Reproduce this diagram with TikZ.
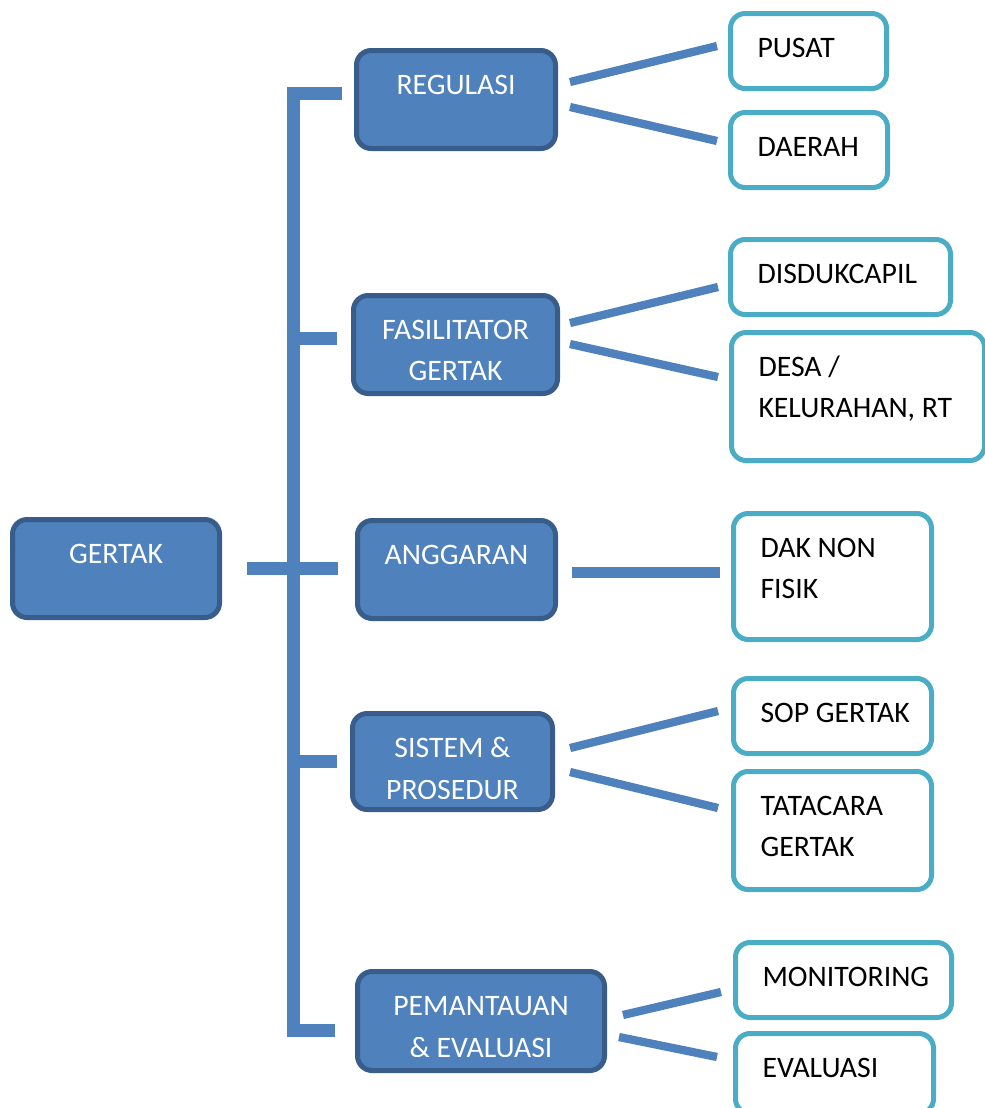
\documentclass[tikz,border=0pt]{standalone}
\usepackage{fontspec}
\setmainfont{Carlito}
\usepackage{trimclip}
\usetikzlibrary{calc}

\definecolor{fillblue}{HTML}{4F81BD}
\definecolor{darkedge}{HTML}{385D8A}
\definecolor{lightedge}{HTML}{4BACC6}

\newdimen\px \px=0.75pt
\newcommand\boxfont{\fontsize{22.3}{30.75}\selectfont}
\newcommand\darktxt[3]{\parbox[c][#2\px][t]{#1\px}{\centering\vspace*{14.8\px}\strut#3\par}}
\newcommand\lighttxt[3]{\parbox[c][#2\px][t]{#1\px}{\raggedright\leftskip=27\px\vspace*{14.8\px}\strut#3\par}}
\newcommand\cut[1]{\clipbox{0pt 1.2pt 0pt 0pt}{#1}}

\tikzset{
  dark/.style={draw=darkedge, fill=fillblue, line width=3.75pt, rounded corners=11pt,
    inner sep=0pt, outer sep=0pt, anchor=north west, text=white, font=\boxfont},
  light/.style={draw=lightedge, fill=white, line width=3.75pt, rounded corners=11pt,
    inner sep=0pt, outer sep=0pt, anchor=north west, font=\boxfont},
  bar/.style={draw=fillblue, line width=9.75pt},
  link/.style={draw=fillblue, line width=6.2pt}
}

\begin{document}
\begin{tikzpicture}[x=0.75pt,y=-0.75pt]
    \useasboundingbox (0,0) rectangle (985,1108);

    % main boxes
    \node[dark] (gertak)      at (12.5,519.5)  {\darktxt{207}{98}{GERTAK}};
    \node[dark] (regulasi)    at (356.5,50.5)  {\darktxt{199}{98}{REGULASI}};
    \node[dark] (fasilitator) at (353.5,295.5) {\darktxt{204}{98}{FASILITATOR\\GERTAK}};
    \node[dark] (anggaran)    at (357.5,520.5) {\darktxt{198}{98}{ANGGARAN}};
    \node[dark] (sistem)      at (352.5,713.5) {\darktxt{200}{96}{SISTEM \&\\\cut{PROSEDUR}}};
    \node[dark] (pemantauan)  at (357.5,971.5) {\darktxt{247}{99}{PEMANTAUAN\\\cut{\& EVALUASI}}};

    % detail boxes
    \node[light] (pusat)      at (730.5,13.5)  {\lighttxt{156}{75}{PUSAT}};
    \node[light] (daerah)     at (730.5,112.5) {\lighttxt{157}{75}{DAERAH}};
    \node[light] (disduk)     at (730.5,239.5) {\lighttxt{220}{75}{DISDUKCAPIL}};
    \node[light] (desa)       at (731.5,332.5) {\lighttxt{253}{128}{DESA /\\KELURAHAN, RT}};
    \node[light] (dak)        at (733.5,513.5) {\lighttxt{198}{126}{DAK NON\\FISIK}};
    \node[light] (sop)        at (733.5,678.5) {\lighttxt{198}{75}{SOP GERTAK}};
    \node[light] (tatacara)   at (733.5,771.5) {\lighttxt{198}{118}{TATACARA\\GERTAK}};
    \node[light] (monitoring) at (735.5,942.5) {\lighttxt{216}{75}{MONITORING}};
    \node[light] (evaluasi)   at (735.5,1033.5) {\lighttxt{198}{80}{EVALUASI}};

    % bracket
    \coordinate (spine) at (293.5,568.5);
    \coordinate (tt) at ([shift={(-14.5,-6.5)}]regulasi.west);
    \coordinate (bt) at ([shift={(-22.5,9)}]pemantauan.west);
    \draw[bar] (tt) -| (spine |- bt) -- (bt);
    \draw[bar] ([xshift=20.5]gertak.east) -- ([xshift=-19.5]gertak.east -| anggaran.west);
    \foreach \n/\dx/\dy in {fasilitator/-16.5/-6.5, anggaran/-19.5/-1.5, sistem/-15.5/-0.5}
      \draw[bar] ([shift={(\dx,\dy)}]\n.west) coordinate (tip) -- (tip -| spine);

    % links to the details
    \draw[link] ([shift={(14.5,-17.5)}]regulasi.east) -- ([shift={(-13.5,-5)}]pusat.west);
    \draw[link] ([shift={(14.5,7.5)}]regulasi.east) -- ([shift={(-13.5,-9)}]daerah.west);
    \draw[link] ([shift={(12.5,-21.5)}]fasilitator.east) -- ([shift={(-12.5,10)}]disduk.west);
    \draw[link] ([shift={(12.5,-0.5)}]fasilitator.east) -- ([shift={(-13.5,-19.5)}]desa.west);
    \draw[link, line width=8.2pt] ([shift={(16.5,3)}]anggaran.east) -- ([shift={(-13.5,-4)}]dak.west);
    \draw[link] ([shift={(17.5,-13.5)}]sistem.east) -- ([shift={(-15.5,-5)}]sop.west);
    \draw[link] ([shift={(17.5,10.5)}]sistem.east) -- ([shift={(-15.5,-22.5)}]tatacara.west);
    \draw[link] ([shift={(18.5,-6)}]pemantauan.east) -- ([shift={(-14.5,12)}]monitoring.west);
    \draw[link] ([shift={(14.5,16)}]pemantauan.east) -- ([shift={(-18.5,-16.5)}]evaluasi.west);

\end{tikzpicture}
\end{document}
